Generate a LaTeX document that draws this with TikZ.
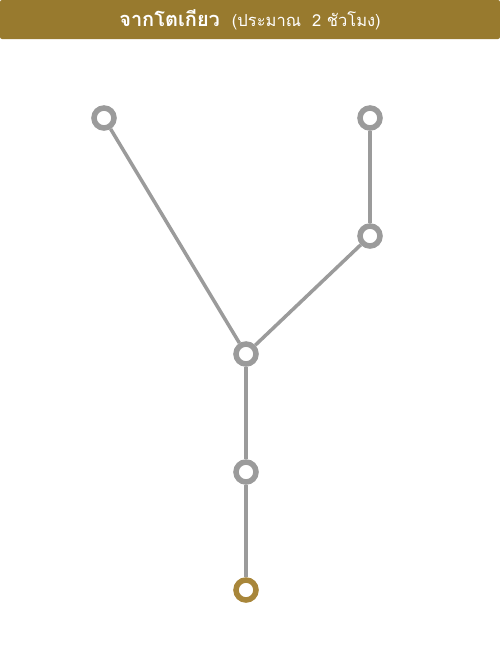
\documentclass[tikz,border=0pt]{standalone}
\usepackage{fontspec}
\newfontfamily\thaifont[Script=Thai]{Loma}
\usetikzlibrary{positioning}
\definecolor{barbrown}{HTML}{987A2E}
\definecolor{stopgray}{HTML}{9B9B9B}
\definecolor{stopgold}{HTML}{A8863A}

\begin{document}
\begin{tikzpicture}[
  x=1pt, y=-1pt,
  stop/.style={circle, draw=stopgray, line width=5.5pt, fill=white,
               minimum size=20pt, inner sep=0pt},
  endstop/.style={stop, draw=stopgold},
  route/.style={draw=stopgray, line width=3.5pt},
]
\useasboundingbox (0,0) rectangle (500,667);

% Header bar
\fill[barbrown, rounded corners=2pt] (0,0) rectangle (500,39);
\node[text=white, font=\thaifont] (title) at (250,19.5)
  {\fontsize{20}{22}\selectfont\bfseries จากโตเกียว\hspace{12pt}{\fontsize{16.5}{20}\selectfont\mdseries (ประมาณ\ \ 2 ชัวโมง)}};

% Stops
\node[stop] (nw) at (104,118) {};
\node[stop] (ne) at (370,118) {};
\node[stop] (e) at (370,236) {};
\node[stop] (hub) at (246,354) {};
\node[stop] (mid) at (246,472) {};
\node[endstop] (dest) at (246,590) {};

% Routes
\draw[route] (nw) -- (hub);
\draw[route] (ne) -- (e);
\draw[route] (e) -- (hub);
\draw[route] (hub) -- (mid);
\draw[route] (mid) -- (dest);

\end{tikzpicture}
\end{document}
